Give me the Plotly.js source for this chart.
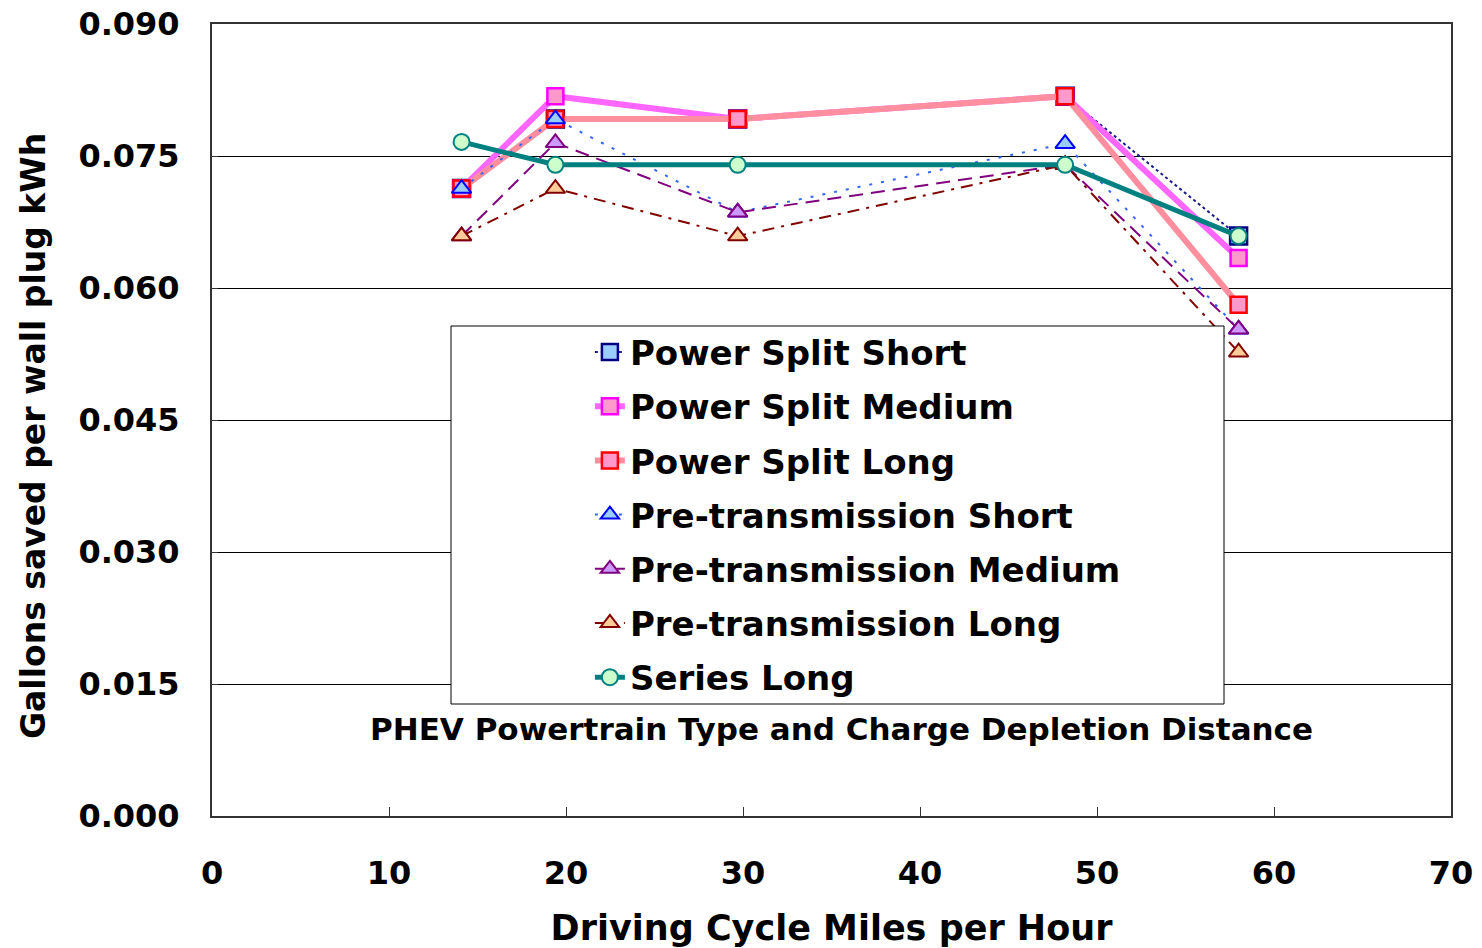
<!DOCTYPE html>
<html>
<head>
<meta charset="utf-8">
<script src="https://cdn.plot.ly/plotly-3.0.1.min.js"></script>
<style>html,body{margin:0;padding:0;background:#fff;}#chart{width:1482px;height:948px;}</style>
</head>
<body>
<div id="chart"></div>
<script>
// Driving cycle average speeds (mph)
const speeds = [14.1, 19.4, 29.7, 48.2, 58.0];

// Gallons saved per wall plug kWh
const powerSplitShort  = [0.0713, 0.0792, 0.0792, 0.0818, 0.0659];
const powerSplitMedium = [0.0713, 0.0818, 0.0792, 0.0818, 0.0634];
const powerSplitLong   = [0.0713, 0.0792, 0.0792, 0.0818, 0.0581];
const preTransShort    = [0.0713, 0.0792, 0.0686, 0.0764, 0.0553];
const preTransMedium   = [0.0659, 0.0765, 0.0686, 0.0740, 0.0553];
const preTransLong     = [0.0659, 0.0713, 0.0659, 0.0740, 0.0527];
const seriesLong       = [0.0766, 0.0740, 0.0740, 0.0740, 0.0659];

const seriesNames = ["Power Split Short", "Power Split Medium", "Power Split Long",
  "Pre-transmission Short", "Pre-transmission Medium", "Pre-transmission Long", "Series Long"];
const yTickVals = [0, 0.015, 0.030, 0.045, 0.060, 0.075, 0.090];
const xTickVals = [0, 10, 20, 30, 40, 50, 60, 70];

const FONT = "DejaVu Sans, Arial, sans-serif";

function tr(name, y, line, marker) {
  return {
    x: speeds, y: y, name: name, type: "scatter", mode: "lines+markers",
    legendgroup: name, line: line, marker: marker, hoverinfo: "x+y+name"
  };
}

const data = [
  tr(seriesNames[0], powerSplitShort, {color: "#1a1a8c", width: 2, dash: "dot"},
     {symbol: "square", size: 17, color: "#99ccff", line: {color: "#000080", width: 2.5}}),
  tr(seriesNames[1], powerSplitMedium, {color: "#ff66ff", width: 6},
     {symbol: "square", size: 16, color: "#ff99cc", line: {color: "#ff00ff", width: 2.5}}),
  tr(seriesNames[2], powerSplitLong, {color: "#ff8f9f", width: 6},
     {symbol: "square", size: 16, color: "#ff99cc", line: {color: "#ff0000", width: 2.5}}),
  tr(seriesNames[3], preTransShort, {color: "#3366ff", width: 2, dash: "3px,9px"},
     {symbol: "triangle-up", size: 17, color: "#99ccff", line: {color: "#0000ff", width: 2}}),
  tr(seriesNames[4], preTransMedium, {color: "#800080", width: 2, dash: "14px,8px"},
     {symbol: "triangle-up", size: 17, color: "#cc99ff", line: {color: "#800080", width: 2}}),
  tr(seriesNames[5], preTransLong, {color: "#800000", width: 2, dash: "12px,7px,3px,7px"},
     {symbol: "triangle-up", size: 17, color: "#ffcc99", line: {color: "#800000", width: 2}}),
  tr(seriesNames[6], seriesLong, {color: "#008080", width: 5},
     {symbol: "circle", size: 16, color: "#ccffcc", line: {color: "#008080", width: 2}})
];

const layout = {
  width: 1482, height: 948,
  margin: {l: 212, r: 31, t: 24, b: 132},
  paper_bgcolor: "#ffffff", plot_bgcolor: "#ffffff",
  font: {family: FONT, color: "#000000"},
  showlegend: true,
  xaxis: {
    range: [0, 70], tickvals: xTickVals, ticks: "inside", ticklen: 9, tickcolor: "#333",
    showgrid: false, zeroline: false, showline: true, linecolor: "#333", linewidth: 2, mirror: true,
    tickfont: {family: FONT, size: 32, color: "#000", weight: "bold"},
    title: {text: "Driving Cycle Miles per Hour", font: {family: FONT, size: 35, color: "#000", weight: "bold"}, standoff: 24},
    ticklabelstandoff: 28
  },
  yaxis: {
    range: [0, 0.090], tickvals: yTickVals, tickformat: ".3f", ticks: "inside", ticklen: 6, tickcolor: "#333",
    showgrid: true, gridcolor: "#000000", gridwidth: 1, zeroline: false,
    showline: true, linecolor: "#333", linewidth: 2, mirror: true,
    tickfont: {family: FONT, size: 32, color: "#000", weight: "bold"},
    ticklabelstandoff: 24
  },
  legend: {
    x: 0.305, y: 0.622, xanchor: "left", yanchor: "top",
    bgcolor: "rgba(0,0,0,0)", borderwidth: 0,
    font: {family: FONT, size: 34, color: "#000", weight: "bold"},
    tracegroupgap: 7, itemclick: false, itemdoubleclick: false
  },
  shapes: [{
    type: "rect", xref: "paper", yref: "paper", layer: "above",
    x0: (451 - 212) / 1239, x1: (1224 - 212) / 1239,
    y0: (816 - 704) / 792, y1: (816 - 326) / 792,
    fillcolor: "#ffffff", line: {color: "#000000", width: 1}
  }],
  annotations: [{
    xref: "paper", yref: "paper", x: (841 - 212) / 1239, y: (816 - 729) / 792,
    xanchor: "center", yanchor: "middle", showarrow: false,
    text: "PHEV Powertrain Type and Charge Depletion Distance",
    font: {family: FONT, size: 31, color: "#000", weight: "bold"}
  }, {
    xref: "paper", yref: "paper", x: (33 - 212) / 1239, y: (816 - 436) / 792,
    xanchor: "center", yanchor: "middle", showarrow: false, textangle: -90,
    text: "Gallons saved per wall plug kWh",
    font: {family: FONT, size: 33, color: "#000", weight: "bold"}
  }]
};

Plotly.newPlot("chart", data, layout, {displayModeBar: false});
</script>
</body>
</html>
